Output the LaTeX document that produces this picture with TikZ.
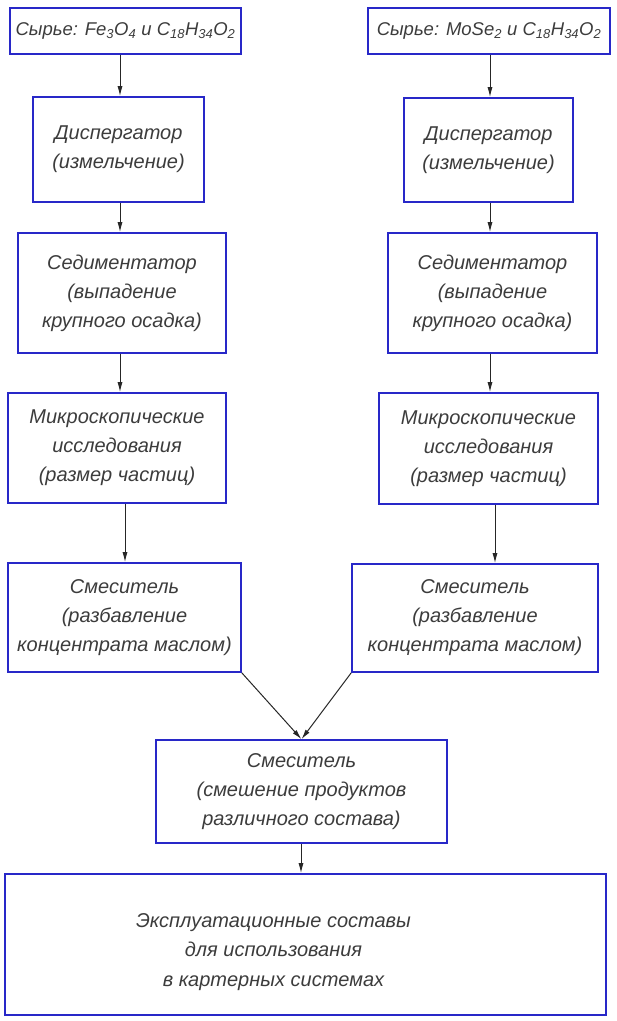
\documentclass[tikz,border=0pt]{standalone}
\usepackage{fontspec}
\setmainfont{Liberation Sans}
\usetikzlibrary{arrows.meta}
\definecolor{boxblue}{RGB}{40,40,200}
\definecolor{txtgray}{RGB}{60,60,60}
\tikzset{
  box/.style={draw=boxblue, line width=1.6pt, rectangle, inner sep=0pt, align=center,
    font=\fontsize{20}{29}\selectfont\itshape, text=txtgray},
  topbox/.style={box, font=\fontsize{18.5}{22}\selectfont\itshape},
  arr/.style={draw=black!85, line width=1pt, -{Latex[length=10pt,width=5pt]}}
}
\newcommand{\sbs}[1]{\textsubscript{#1}}
\begin{document}
\begin{tikzpicture}[x=1pt,y=-1pt]
\useasboundingbox (0,0) rectangle (617,1021);
% left column
\node[topbox, minimum width=231pt, minimum height=46pt] (L1) at (125.5,31) {Сырье: Fe\sbs{3}O\sbs{4} и C\sbs{18}H\sbs{34}O\sbs{2}};
\node[box, minimum width=171pt, minimum height=105pt] (L2) at (118.5,149.5) {Диспергатор\\(измельчение)};
\node[box, minimum width=208pt, minimum height=120pt] (L3) at (122,293) {Седиментатор\\(выпадение\\крупного осадка)};
\node[box, minimum width=218pt, minimum height=110pt] (L4) at (117,448) {Микроскопические\\исследования\\(размер частиц)};
\node[box, minimum width=233pt, minimum height=109pt] (L5) at (124.5,617.5) {Смеситель\\(разбавление\\концентрата маслом)};
% right column
\node[topbox, minimum width=242pt, minimum height=46pt] (R1) at (489,31) {Сырье: MoSe\sbs{2} и C\sbs{18}H\sbs{34}O\sbs{2}};
\node[box, minimum width=169pt, minimum height=104pt] (R2) at (488.5,150) {Диспергатор\\(измельчение)};
\node[box, minimum width=209pt, minimum height=120pt] (R3) at (492.5,293) {Седиментатор\\(выпадение\\крупного осадка)};
\node[box, minimum width=219pt, minimum height=111pt] (R4) at (488.5,448.5) {Микроскопические\\исследования\\(размер частиц)};
\node[box, minimum width=246pt, minimum height=108pt] (R5) at (475,618) {Смеситель\\(разбавление\\концентрата маслом)};
% merge
\node[box, minimum width=291pt, minimum height=103pt] (C) at (301.5,791.5) {Смеситель\\(смешение продуктов\\различного состава)};
\node[box, align=none, minimum width=601pt, minimum height=141pt] (B) at (305.5,944.5)
  {\renewcommand{\arraystretch}{1.03}\rule{0pt}{63pt}\begin{tabular}{@{}c@{}}Эксплуатационные составы\\для использования\\в картерных системах\end{tabular}\hspace*{64pt}};
% arrow columns
\coordinate (la) at (120,0);
\coordinate (lb) at (125,0);
\coordinate (ra) at (490,0);
\coordinate (rb) at (495,0);
\coordinate (ca) at (301,0);
\draw[arr] (L1.south -| la) -- (L2.north -| la);
\draw[arr] (L2.south -| la) -- (L3.north -| la);
\draw[arr] (L3.south -| la) -- (L4.north -| la);
\draw[arr] (L4.south -| lb) -- (L5.north -| lb);
\draw[arr] (R1.south -| ra) -- (R2.north -| ra);
\draw[arr] (R2.south -| ra) -- (R3.north -| ra);
\draw[arr] (R3.south -| ra) -- (R4.north -| ra);
\draw[arr] (R4.south -| rb) -- (R5.north -| rb);
\draw[arr] (L5.south east) -- (C.north);
\draw[arr] (R5.south west) -- (C.north);
\draw[arr] (C.south -| ca) -- (B.north -| ca);
\end{tikzpicture}
\end{document}
